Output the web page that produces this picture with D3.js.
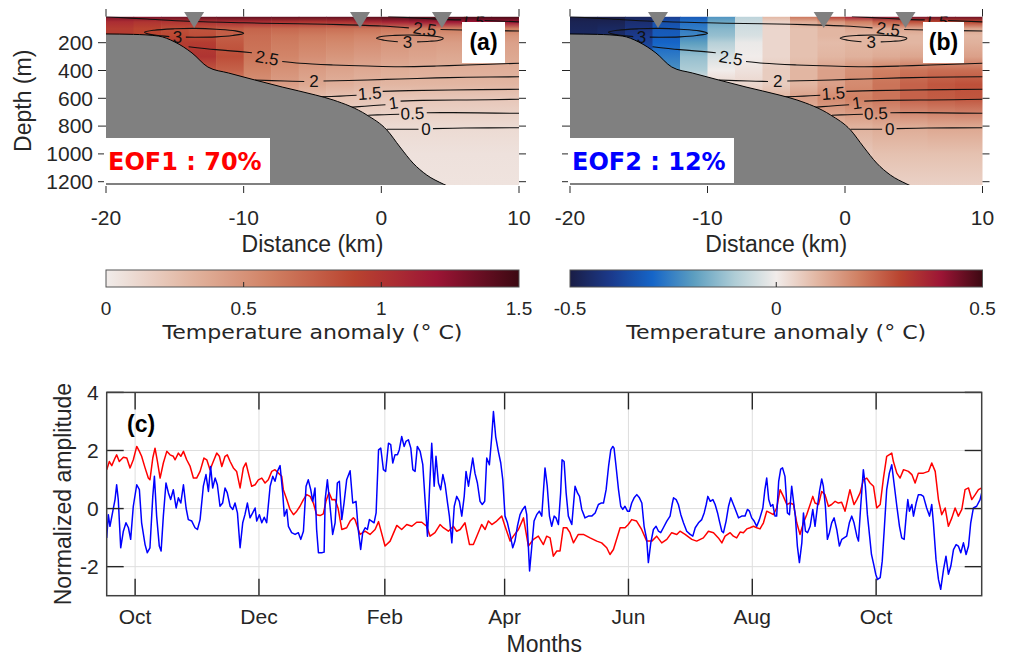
<!DOCTYPE html>
<html>
<head>
  <meta charset="utf-8">
  <title>EOF modes of temperature anomaly</title>
  <script src="https://d3js.org/d3.v7.min.js"></script>
  <style>
    body { margin: 0; background: #fff; }
    svg text { font-family: "Liberation Sans", Arial, sans-serif; fill: #262626; }
    .tick { stroke: #262626; stroke-width: 1; }
    .contour { fill: none; stroke: #111; stroke-width: 1.1; }
    .clabel { font-size: 17px; fill: #111; }
    .grid { stroke: #dedede; stroke-width: 1; }
    .series { fill: none; stroke-width: 1.5; stroke-linejoin: round; }
  </style>
</head>
<body>
<script>
// ---------- sections (a) and (b) ----------
const distanceTicks = [-20, -10, 0, 10];
const depthTicks = [200, 400, 600, 800, 1000, 1200];
const stationKm = [-13.6, -1.55, 4.4];

// EOF patterns on 2 km columns x depth levels (m)
const gridKm = [-19, -17, -15, -13, -11, -9, -7, -5, -3, -1, 1, 3, 5, 7, 9];
const gridDepth = [12, 50, 100, 150, 200, 300, 400, 500, 600, 800, 1000, 1225];

const eof1 = [
  [1.30, 1.32, 1.35, 1.38, 1.40, 1.40, 1.40, 1.40, 1.40, 1.42, 1.45, 1.48, 1.48, 1.48, 1.48],
  [1.05, 1.00, 1.00, 1.02, 1.05, 1.05, 1.02, 1.00, 1.02, 1.08, 1.12, 1.15, 1.18, 1.20, 1.20],
  [0.95, 0.90, 0.85, 0.82, 0.78, 0.74, 0.72, 0.70, 0.68, 0.66, 0.64, 0.62, 0.60, 0.60, 0.60],
  [0.95, 0.90, 0.88, 0.85, 0.76, 0.70, 0.65, 0.62, 0.60, 0.57, 0.54, 0.52, 0.50, 0.48, 0.48],
  [0.90, 0.90, 0.95, 0.95, 0.80, 0.68, 0.62, 0.58, 0.55, 0.52, 0.48, 0.45, 0.44, 0.42, 0.42],
  [0.90, 0.90, 0.95, 1.00, 0.85, 0.65, 0.57, 0.52, 0.48, 0.45, 0.42, 0.40, 0.38, 0.38, 0.38],
  [0.80, 0.80, 0.80, 0.80, 0.75, 0.58, 0.50, 0.44, 0.40, 0.37, 0.35, 0.34, 0.34, 0.34, 0.34],
  [0.55, 0.55, 0.55, 0.55, 0.55, 0.50, 0.44, 0.38, 0.34, 0.31, 0.30, 0.30, 0.30, 0.30, 0.30],
  [0.30, 0.30, 0.30, 0.30, 0.30, 0.30, 0.28, 0.25, 0.23, 0.22, 0.21, 0.21, 0.21, 0.21, 0.21],
  [0.10, 0.10, 0.10, 0.10, 0.10, 0.10, 0.10, 0.10, 0.10, 0.10, 0.10, 0.10, 0.10, 0.10, 0.10],
  [0.06, 0.06, 0.06, 0.06, 0.06, 0.06, 0.06, 0.06, 0.06, 0.06, 0.06, 0.06, 0.06, 0.06, 0.06],
  [0.05, 0.05, 0.05, 0.05, 0.05, 0.05, 0.05, 0.05, 0.05, 0.05, 0.05, 0.05, 0.05, 0.05, 0.05]
];

const eof2 = [
  [-0.50, -0.50, -0.47, -0.40, -0.33, -0.22, -0.08, 0.10, 0.22, 0.32, 0.38, 0.42, 0.44, 0.45, 0.45],
  [-0.48, -0.48, -0.44, -0.35, -0.28, -0.18, -0.06, 0.05, 0.12, 0.16, 0.20, 0.25, 0.28, 0.30, 0.30],
  [-0.47, -0.46, -0.42, -0.33, -0.26, -0.15, -0.05, 0.04, 0.08, 0.10, 0.12, 0.13, 0.13, 0.13, 0.13],
  [-0.46, -0.45, -0.40, -0.32, -0.24, -0.13, -0.04, 0.04, 0.08, 0.10, 0.10, 0.10, 0.10, 0.10, 0.10],
  [-0.45, -0.44, -0.38, -0.30, -0.20, -0.09, -0.01, 0.04, 0.08, 0.09, 0.10, 0.10, 0.10, 0.11, 0.11],
  [-0.40, -0.40, -0.34, -0.26, -0.13, -0.04, 0.00, 0.04, 0.08, 0.10, 0.11, 0.12, 0.13, 0.14, 0.14],
  [-0.30, -0.30, -0.28, -0.22, -0.10, 0.00, 0.02, 0.06, 0.10, 0.14, 0.17, 0.20, 0.22, 0.23, 0.23],
  [0.00, 0.00, 0.00, 0.00, 0.02, 0.04, 0.04, 0.06, 0.10, 0.14, 0.18, 0.22, 0.25, 0.27, 0.28],
  [0.05, 0.05, 0.05, 0.05, 0.05, 0.06, 0.08, 0.10, 0.14, 0.18, 0.20, 0.22, 0.25, 0.26, 0.27],
  [0.06, 0.06, 0.06, 0.06, 0.06, 0.06, 0.06, 0.08, 0.08, 0.10, 0.11, 0.12, 0.12, 0.13, 0.13],
  [0.06, 0.06, 0.06, 0.06, 0.06, 0.06, 0.06, 0.06, 0.06, 0.07, 0.07, 0.08, 0.08, 0.08, 0.08],
  [0.05, 0.05, 0.05, 0.05, 0.05, 0.05, 0.05, 0.05, 0.05, 0.05, 0.05, 0.05, 0.05, 0.05, 0.05]
];

// bottom topography
const bathyKm = [-20, -18, -16.2, -15.0, -13.75, -12.6, -11.1, -9.2, -7.2, -4.8, -3.5, -1.05, 0.4, 1.35, 2.3, 3.3, 4.5, 5.0];
const bathyDepth = [137, 140, 152, 195, 274, 375, 418, 468, 519, 576, 612, 720, 828, 950, 1066, 1152, 1217, 1240];

// mean temperature contours, split where their labels sit
const contourLines = [
  [[-20, 13], [-17, 30], [-14, 46], [-10, 57], [-6, 64], [-3, 70], [0, 80], [2.0, 93]],
  [[4.3, 105], [7, 111], [10, 116]],
  [[0.5, 12], [2.5, 22], [4.5, 32], [5.8, 36]],
  [[7.5, 40], [10, 50]],
  [[-14.2, 160], [-13.5, 161], [-12, 158], [-10.8, 148], [-10.0, 133], [-10.6, 115], [-12, 103], [-13.5, 97], [-15, 100], [-16.5, 110], [-17.2, 125], [-16.8, 140], [-16, 150], [-15.4, 156]],
  [[2.6, 194], [3.5, 190], [4.3, 180], [4.5, 168], [4.0, 155], [3, 147], [2, 145], [1, 147], [0, 155], [-0.35, 168], [0.2, 182], [0.8, 190], [1.2, 193]],
  [[-14.0, 229], [-12, 250], [-9.4, 272]],
  [[-7.2, 335], [-5.9, 348], [-3.5, 360], [-1, 368], [1.35, 373], [4, 368], [6.2, 360], [10, 348]],
  [[-9.2, 468], [-7, 476], [-5.6, 479]],
  [[-4.2, 476], [-1, 468], [1.35, 461], [4, 453], [6.2, 449], [10, 445]],
  [[-4.5, 590], [-3, 584], [-1.8, 578]],
  [[0.1, 550], [2, 545], [5, 540], [10, 535]],
  [[-2.3, 665], [-1.2, 657], [0.3, 646]],
  [[1.4, 620], [3, 615], [6.2, 612], [10, 607]],
  [[-0.95, 722], [0.2, 718], [1.3, 715]],
  [[3.3, 704], [5, 703], [7, 705], [10, 708]],
  [[0.4, 823], [1.5, 823], [2.7, 823]],
  [[3.75, 818], [6, 814], [10, 812]]
];
const contourLabelText = ["2.5", "1.5", "3", "3", "2.5", "2", "1.5", "1", "0.5", "0"];
const contourLabelKm = [3.15, 6.65, -14.8, 1.9, -8.3, -4.9, -0.85, 0.87, 2.25, 3.25];
const contourLabelDepth = [101, 37, 158, 196, 310, 476, 564, 633, 708, 823];
const contourLabelAngle = [8, 10, 0, 0, 10, 0, -4, -8, -2, 0];

// ---------- time series (c) ----------
const seriesStart = Date.UTC(2013, 8, 17);
const seriesEnd = Date.UTC(2014, 10, 22);
const monthTicks = [Date.UTC(2013, 9, 1), Date.UTC(2013, 11, 1), Date.UTC(2014, 1, 1), Date.UTC(2014, 3, 1),
                    Date.UTC(2014, 5, 1), Date.UTC(2014, 7, 1), Date.UTC(2014, 9, 1)];
const monthLabels = ["Oct", "Dec", "Feb", "Apr", "Jun", "Aug", "Oct"];
const ampTicks = [-2, 0, 2, 4];

// [days since start, normalized amplitude]
const pc1 = [
  [0, 1.34], [1.3, 1.62], [2.5, 1.48], [4.1, 1.74], [4.9, 1.85], [6.2, 1.62], [8.2, 1.77], [9.9, 1.74], [11.5, 1.40],
  [13.1, 1.68], [14.8, 2.14], [16.1, 1.97], [17.2, 1.80], [18.9, 1.40], [20.5, 1.05], [21.3, 0.99], [22.7, 1.74],
  [23.8, 2.08], [25.0, 1.62], [26.3, 1.05], [27.9, 1.57], [29.6, 1.97], [31.2, 1.85], [32.8, 1.80], [33.7, 1.68],
  [35.3, 1.91], [36.5, 1.80], [37.8, 1.97], [39.4, 1.68], [41.1, 1.45], [42.7, 1.05], [44.3, 1.05], [46.0, 1.28],
  [47.9, 1.74], [49.3, 1.68], [50.9, 1.34], [52.5, 1.62], [54.2, 1.91], [55.5, 1.80], [56.7, 1.45], [58.3, 1.80],
  [59.4, 1.85], [60.8, 1.62], [62.4, 1.40], [64.0, 1.28], [65.7, 0.71], [67.3, 1.40], [68.6, 1.57], [69.8, 1.22],
  [71.4, 0.77], [73.1, 0.82], [74.7, 0.99], [76.4, 1.05], [78.0, 0.88], [79.6, 0.99], [81.3, 1.28], [82.9, 1.34],
  [84.6, 1.22], [86.2, 1.11], [87.0, 0.65], [88.7, 0.31], [90.3, -0.03], [92.0, -0.21], [93.6, -0.09], [95.2, 0.08],
  [96.9, 0.31], [98.5, 0.48], [100.2, 0.42], [101.8, 0.19], [103.4, -0.21], [105.1, -0.24], [106.7, -0.18],
  [108.0, 0.25], [109.5, 0.55], [111.0, 0.30], [112.5, 0.31], [114.0, 0.0], [115.8, -0.72], [118.2, -0.66],
  [119.9, -0.43], [121.5, -0.32], [122.3, -0.38], [124.8, -0.89], [127.3, -0.78], [129.7, -0.89], [132.2, -0.72],
  [133.9, -0.45], [137.1, -1.29], [139.6, -1.12], [142.9, -0.58], [145.3, -0.72], [147.8, -0.55], [150.3, -0.61],
  [152.7, -0.47], [155.2, -0.47], [157.6, -0.61], [159.3, -0.95], [161.7, -0.83], [164.2, -0.55], [165.8, -0.66],
  [168.3, -0.78], [170.8, -0.61], [172.4, -0.78], [174.1, -0.72], [176.5, -0.49], [178.7, -1.24], [180.6, -1.24],
  [182.3, -0.95], [184.7, -0.55], [186.4, -0.72], [188.0, -0.43], [189.7, -0.55], [192.1, -0.43], [194.6, -0.26],
  [196.2, -0.61], [198.7, -1.12], [200.3, -0.95], [202.8, -0.72], [205.3, -0.32], [207.7, -1.29], [210.2, -1.06],
  [212.6, -0.95], [215.1, -1.24], [216.7, -0.95], [218.4, -1.01], [220.0, -1.64], [221.7, -1.46], [223.3, -1.46],
  [224.9, -0.66], [226.6, -0.66], [228.2, -0.83], [229.9, -1.18], [232.3, -0.89], [234.8, -0.89], [238.1, -1.01],
  [241.4, -1.12], [243.8, -1.18], [246.3, -1.35], [247.9, -1.58], [249.6, -1.41], [252.9, -0.66], [255.3, -0.66],
  [256.9, -0.55], [258.6, -0.38], [261.0, -0.43], [263.5, -0.72], [266.0, -1.12], [268.5, -1.12], [270.9, -0.95],
  [273.4, -1.18], [275.9, -1.06], [278.3, -0.83], [280.8, -0.89], [282.4, -0.78], [284.9, -0.89], [288.2, -1.06],
  [290.6, -1.12], [293.9, -1.01], [296.4, -0.78], [298.9, -0.83], [301.3, -1.01], [303.0, -1.18], [304.6, -0.95],
  [307.1, -0.83], [308.7, -0.95], [310.3, -1.01], [312.0, -0.81], [313.6, -0.83], [315.3, -0.70], [316.9, -0.66],
  [318.6, -0.61], [320.2, -0.66], [321.8, -0.70], [323.5, -0.49], [325.1, -0.09], [326.8, -0.15], [328.4, -0.21],
  [330.0, 0.02], [331.7, 0.65], [333.3, 0.42], [335.0, 0.14], [336.6, 0.19], [338.3, 0.14], [339.9, -0.49],
  [341.5, -0.89], [343.2, -0.49], [344.8, -0.21], [346.5, 0.14], [347.8, 0.42], [348.9, 0.19], [350.6, 0.14],
  [352.2, 0.59], [353.8, 0.48], [355.5, 0.08], [357.1, 0.14], [358.8, 0.25], [360.4, 0.19], [362.0, 0.22],
  [363.7, -0.09], [366.1, 0.65], [368.1, 0.14], [369.5, 0.31], [371.1, 0.54], [372.7, 0.99], [374.4, 1.05],
  [376.0, 0.88], [377.7, 0.77], [379.3, 0.02], [381.0, 0.14], [382.6, 1.05], [384.2, 1.80], [386.7, 1.91],
  [387.5, 1.62], [389.2, 1.22], [390.8, 1.05], [392.5, 1.34], [394.9, 1.28], [396.6, 1.17], [398.2, 0.88],
  [399.8, 1.22], [402.3, 1.22], [404.8, 1.28], [406.4, 1.57], [408.1, 1.28], [409.7, 0.31], [411.3, -0.21],
  [413.0, 0.02], [414.6, -0.61], [416.3, -0.32], [417.9, 0.02], [419.5, -0.26], [421.2, -0.03], [422.8, 0.65],
  [424.5, 0.71], [426.1, 0.31], [427.8, 0.48], [429.4, 0.65], [431.0, 0.71]
];

const pc2 = [
  [0, -1.01], [0.8, -0.21], [1.6, -0.61], [4.1, 0.31], [4.9, 0.82], [5.7, 0.31], [6.9, -1.35], [8.2, -0.78],
  [9.5, -0.49], [10.7, -0.66], [11.8, -1.06], [13.1, 0.08], [14.8, 0.82], [16.1, 0.65], [17.2, -0.49], [18.9, -1.24],
  [20.0, -1.52], [21.3, -1.35], [22.7, 0.42], [23.5, 1.11], [24.6, -0.26], [25.9, -1.29], [26.8, -1.46], [27.9, -0.26],
  [29.2, 0.88], [30.4, 0.54], [31.5, 0.31], [32.8, 0.65], [34.2, 0.02], [35.3, 0.37], [36.5, 0.19], [37.8, 0.82],
  [39.1, 0.02], [40.2, -0.38], [41.9, -0.43], [43.5, -0.66], [44.7, -0.72], [46.0, -0.38], [47.6, 0.77], [48.9, 1.17],
  [50.1, 0.59], [51.2, 1.45], [52.2, 0.71], [53.4, 1.05], [54.5, 0.82], [55.8, 0.08], [57.1, 0.19], [58.3, 0.71],
  [59.4, 0.54], [60.8, 0.08], [62.1, -0.03], [63.2, 0.19], [64.4, -0.15], [65.7, -1.35], [67.0, -0.49], [68.1, -0.21],
  [69.3, 0.19], [70.6, -0.32], [71.9, -0.15], [73.1, 0.02], [73.9, -0.43], [75.2, -0.21], [76.4, -0.49], [77.6, -0.30],
  [78.8, -0.49], [80.5, 0.77], [81.8, 1.11], [82.9, 0.94], [84.1, 1.28], [85.4, 1.48], [86.7, 0.54], [87.5, -0.26],
  [88.7, -0.03], [89.5, -0.61], [91.1, -0.83], [92.8, -0.89], [94.4, -0.83], [95.6, -1.06], [96.9, -0.78],
  [98.2, 0.77], [99.3, 0.99], [100.5, 0.65], [101.5, 0.25], [102.6, 0.71], [103.4, -0.72], [104.3, -1.52],
  [105.9, -1.52], [107.1, -1.50], [107.6, 0.31], [108.7, 0.99], [109.7, 0.31], [111.3, -0.89], [112.5, -0.49],
  [113.6, 0.88], [114.6, 0.94], [115.8, -0.38], [116.9, 0.19], [118.2, 0.99], [119.9, 1.30], [121.2, 0.19],
  [122.8, 0.25], [123.9, -0.72], [125.1, -1.41], [126.1, -0.83], [127.3, -0.66], [128.4, -0.72], [129.4, -0.38],
  [130.5, -0.43], [131.7, -0.49], [132.7, -0.15], [133.9, 2.02], [135.0, 2.08], [136.3, 1.34], [137.4, 1.28],
  [138.8, 2.25], [139.9, 2.20], [140.9, 1.57], [142.0, 1.85], [143.2, 1.85], [144.1, 2.02], [145.3, 2.48],
  [146.5, 2.14], [147.4, 2.31], [148.6, 2.37], [149.8, 2.08], [150.8, 1.34], [151.9, 1.28], [153.0, 2.14],
  [154.4, 1.97], [155.7, 1.51], [156.8, 0.31], [158.0, -0.95], [159.0, 0.65], [160.1, 2.25], [161.3, 0.77],
  [162.2, 1.80], [163.4, 0.88], [164.5, 0.65], [165.6, 1.17], [166.7, 0.82], [167.9, 0.19], [168.8, -0.26],
  [170.0, -1.18], [171.2, 0.08], [172.4, 0.42], [173.7, 0.25], [174.9, -0.26], [176.1, 0.42], [177.0, 1.28],
  [178.2, 0.77], [179.3, 1.28], [180.3, 1.74], [181.4, 1.22], [182.6, 0.88], [183.9, 0.25], [185.0, 0.14],
  [186.2, 0.25], [187.2, 1.74], [188.5, 1.51], [189.6, 2.42], [190.5, 3.34], [191.6, 2.48], [192.9, 1.97],
  [194.1, 1.57], [195.1, 0.99], [196.2, -0.26], [197.4, -0.49], [198.7, -0.89], [200.0, -1.35], [201.1, -1.12],
  [202.3, -0.61], [203.6, -0.21], [204.9, -0.03], [206.1, 0.08], [206.9, -0.21], [208.3, -2.15], [209.4, -1.29],
  [210.5, -0.43], [211.8, -0.21], [213.1, -0.09], [214.3, -0.26], [215.9, 1.40], [217.0, 0.77], [218.1, -0.26],
  [219.2, -0.61], [220.4, -0.26], [221.3, -0.32], [222.5, -0.55], [223.6, 0.54], [224.3, 1.68], [225.3, 1.62],
  [226.3, 0.54], [227.4, -0.26], [229.1, -0.55], [230.7, 0.77], [231.9, 0.54], [232.9, 0.42], [234.0, -0.03],
  [235.6, -0.32], [237.3, -0.26], [238.9, -0.26], [240.6, -0.15], [242.2, 0.14], [243.5, 0.19], [244.7, 0.19],
  [246.0, 0.65], [247.2, 1.45], [248.3, 2.02], [249.3, 2.14], [249.9, 2.08], [250.9, 1.45], [252.1, 0.65],
  [253.2, 0.08], [254.2, -0.03], [255.3, 0.08], [256.5, -0.09], [257.5, -0.09], [258.6, 0.19], [259.8, 0.37],
  [261.1, 0.48], [262.4, 0.37], [263.6, 0.19], [264.7, -0.61], [266.0, -1.06], [266.8, -1.86], [268.0, -1.18],
  [269.3, -0.72], [270.6, -0.61], [271.8, -0.78], [272.9, -0.83], [274.2, -0.66], [275.9, -0.43], [277.5, -0.26],
  [278.5, 0.14], [279.2, 0.37], [280.5, 0.31], [281.6, 0.14], [282.8, -0.21], [284.1, -0.49], [285.7, -0.78],
  [287.4, -0.89], [288.7, -0.95], [289.9, -0.66], [291.5, -0.49], [293.1, -0.38], [294.3, -0.15], [295.3, 0.14],
  [296.1, 0.42], [297.3, 0.25], [298.6, 0.31], [299.7, 0.14], [300.9, -0.15], [301.8, -0.43], [303.0, -0.78],
  [303.8, -0.83], [305.1, -0.43], [306.3, 0.08], [307.4, 0.37], [308.7, 0.14], [310.0, -0.09], [311.2, -0.32],
  [312.8, -0.26], [314.4, -0.26], [315.6, -0.03], [316.6, -0.09], [317.7, -0.32], [318.9, -0.43], [320.2, -0.61],
  [321.5, -0.38], [323.2, 0.02], [324.2, 0.65], [325.1, 1.05], [326.1, 0.31], [327.1, 0.08], [328.1, 0.14],
  [329.2, -0.26], [330.0, -0.26], [331.0, 0.94], [332.0, 1.36], [332.9, 1.40], [334.1, 1.11], [335.3, -0.15],
  [336.3, -0.21], [337.4, 0.77], [338.2, 0.31], [339.2, -0.26], [340.2, -1.29], [341.2, -1.86], [342.4, -1.18],
  [343.2, -0.15], [344.2, -0.78], [345.2, -0.83], [346.5, -0.61], [347.8, -0.03], [348.9, -0.61], [350.1, 0.08],
  [351.1, 0.59], [352.2, 1.02], [353.0, 0.77], [354.0, 0.08], [355.0, -1.06], [356.0, -0.83], [357.1, -0.49],
  [358.3, -0.32], [359.6, -0.72], [360.9, -1.29], [362.1, -1.06], [363.2, -1.01], [364.5, -0.95], [365.8, -0.49],
  [367.0, -0.26], [368.1, -0.49], [369.5, -0.95], [370.3, -1.12], [371.4, 0.08], [372.7, 1.34], [373.7, 0.77],
  [374.7, -0.21], [375.7, -0.89], [376.7, -1.58], [377.8, -1.92], [378.8, -2.26], [379.7, -2.44], [381.0, -2.38],
  [382.0, -1.81], [383.0, -0.72], [384.2, 0.65], [385.5, 1.22], [386.7, 1.51], [387.8, 0.88], [389.2, 0.08],
  [390.5, -0.61], [391.6, -1.01], [392.8, -1.06], [393.8, -0.26], [394.6, 0.31], [395.4, -0.09], [396.6, 0.14],
  [397.4, -0.26], [398.7, 0.19], [399.8, 0.48], [401.0, 0.48], [402.3, 0.42], [403.9, 0.02], [405.3, -0.26],
  [406.4, 0.14], [407.2, -0.49], [408.5, -1.75], [409.7, -2.44], [410.8, -2.78], [412.2, -2.09], [413.4, -1.64],
  [414.6, -2.26], [415.8, -1.98], [417.1, -1.41], [418.4, -1.24], [419.5, -1.29], [420.7, -1.52], [422.0, -1.18],
  [423.3, -1.58], [424.5, -1.29], [425.6, -0.49], [426.9, 0.02], [428.5, 0.08], [430.2, 0.31], [431.0, 0.54]
];

// diverging colormap (cmocean "balance"-like)
const balanceColors = ["#1a1d45", "#1b3a8c", "#1565c8", "#5c9ec0", "#afcdd6", "#f1ecea",
                       "#e2b6a2", "#d08063", "#b94430", "#9c1535", "#3c0912"];
const balance = d3.piecewise(d3.interpolateRgb, balanceColors);
const colorEof1 = v => balance(Math.max(0, Math.min(1, 0.5 + v / 3)));
const colorEof2 = v => balance(Math.max(0, Math.min(1, 0.5 + v)));

const svg = d3.select("body").append("svg").attr("width", 1010).attr("height", 656);
const defs = svg.append("defs");

function drawSection(opt) {
  const x = d3.scaleLinear().domain([-20, 10]).range([opt.left, opt.right]);
  const y = d3.scaleLinear().domain([0, 1200]).range([14.9, 181.7]);
  const top = y(12), bottom = y(1224);
  const g = svg.append("g");

  defs.append("clipPath").attr("id", "clip-" + opt.id).append("rect")
    .attr("x", opt.left).attr("y", top).attr("width", opt.right - opt.left).attr("height", bottom - top);

  const y0 = y(gridDepth[0]), y1 = y(gridDepth[gridDepth.length - 1]);
  gridKm.forEach((km, i) => {
    const grad = defs.append("linearGradient").attr("id", `${opt.id}-col${i}`)
      .attr("gradientUnits", "userSpaceOnUse")
      .attr("x1", 0).attr("x2", 0).attr("y1", y0).attr("y2", y1);
    gridDepth.forEach((d, j) => {
      grad.append("stop").attr("offset", (y(d) - y0) / (y1 - y0)).attr("stop-color", opt.color(opt.values[j][i]));
    });
  });

  const body = g.append("g").attr("clip-path", `url(#clip-${opt.id})`);
  body.selectAll("rect.col").data(gridKm).join("rect")
    .attr("class", "col")
    .attr("x", d => x(d - 1)).attr("width", d => x(d + 1) - x(d - 1) + 0.6)
    .attr("y", top).attr("height", bottom - top)
    .attr("fill", (d, i) => `url(#${opt.id}-col${i})`);

  // contours
  const cline = d3.line().x(d => x(d[0])).y(d => y(d[1])).curve(d3.curveCatmullRom);
  body.selectAll("path.contour").data(contourLines).join("path")
    .attr("class", "contour").attr("d", cline);
  body.selectAll("text.clabel").data(contourLabelText).join("text")
    .attr("class", "clabel")
    .attr("text-anchor", "middle").attr("dy", "0.35em")
    .attr("transform", (d, i) => `translate(${x(contourLabelKm[i])},${y(contourLabelDepth[i])}) rotate(${contourLabelAngle[i]})`)
    .text(d => d);

  // topography
  const bathy = bathyKm.map((k, i) => [k, bathyDepth[i]]);
  body.append("path").datum(bathy)
    .attr("fill", "#808080")
    .attr("d", d3.area().x(d => x(d[0])).y0(y(1400)).y1(d => y(d[1])).curve(d3.curveMonotoneX));
  body.append("path").datum(bathy)
    .attr("fill", "none").attr("stroke", "#000").attr("stroke-width", 1)
    .attr("d", d3.line().x(d => x(d[0])).y(d => y(d[1])).curve(d3.curveMonotoneX));

  // ticks (outward)
  g.selectAll("line.xb").data(distanceTicks).join("line").attr("class", "tick")
    .attr("x1", d => x(d)).attr("x2", d => x(d)).attr("y1", 186).attr("y2", 193);
  g.selectAll("line.xt").data(distanceTicks).join("line").attr("class", "tick")
    .attr("x1", d => x(d)).attr("x2", d => x(d)).attr("y1", 9).attr("y2", top);
  g.selectAll("line.yl").data(depthTicks).join("line").attr("class", "tick")
    .attr("x1", opt.left - 8).attr("x2", opt.left).attr("y1", d => y(d)).attr("y2", d => y(d));
  g.selectAll("line.yr").data(depthTicks).join("line").attr("class", "tick")
    .attr("x1", opt.right).attr("x2", opt.right + 7).attr("y1", d => y(d)).attr("y2", d => y(d));

  g.selectAll("text.xl").data(distanceTicks).join("text")
    .attr("x", d => x(d)).attr("y", 225).attr("text-anchor", "middle")
    .style("font-size", "21px").text(d => d);
  g.append("text").attr("x", (opt.left + opt.right) / 2).attr("y", 252)
    .attr("text-anchor", "middle").style("font-size", "23px").text("Distance (km)");

  if (opt.yLabels) {
    g.selectAll("text.yl").data(depthTicks).join("text")
      .attr("x", opt.left - 13).attr("y", d => y(d)).attr("dy", "0.35em")
      .attr("text-anchor", "end").style("font-size", "21px").text(d => d);
    g.append("text").attr("transform", `translate(31,${(top + bottom) / 2}) rotate(-90)`)
      .attr("text-anchor", "middle").style("font-size", "23px").text("Depth (m)");
  }

  // stations
  g.selectAll("path.station").data(stationKm).join("path")
    .attr("fill", "#808080")
    .attr("d", d => `M${x(d) - 10},12L${x(d) + 10},12L${x(d)},28Z`);

  // panel letter
  g.append("rect").attr("x", opt.letterBox[0]).attr("y", 22).attr("width", opt.letterBox[1] - opt.letterBox[0]).attr("height", 41)
    .attr("fill", "#fff");
  g.append("text").attr("x", (opt.letterBox[0] + opt.letterBox[1]) / 2).attr("y", 50)
    .attr("text-anchor", "middle").style("font-size", "23px").style("font-weight", "bold").style("fill", "#000")
    .text(opt.letter);

  // variance label
  g.append("rect").attr("x", opt.left - 2).attr("y", 138).attr("width", 166).attr("height", 45).attr("fill", "#fff");
  g.append("text").attr("x", opt.left + 2).attr("y", 170)
    .style("font-family", "'DejaVu Sans', sans-serif").style("font-weight", "bold").style("font-size", "24px")
    .style("fill", opt.labelColor).text(opt.label);

  // colorbar
  const cb = d3.scaleLinear().domain(opt.cbDomain).range([opt.left, opt.right]);
  const cg = defs.append("linearGradient").attr("id", `${opt.id}-cb`);
  d3.range(0, 1.0001, 0.05).forEach(t => {
    const v = opt.cbDomain[0] + t * (opt.cbDomain[1] - opt.cbDomain[0]);
    cg.append("stop").attr("offset", t).attr("stop-color", opt.color(v));
  });
  g.append("rect").attr("x", opt.left).attr("y", 270).attr("width", opt.right - opt.left).attr("height", 17)
    .attr("fill", `url(#${opt.id}-cb)`).attr("stroke", "#555").attr("stroke-width", 1);
  g.selectAll("line.cbt").data(opt.cbTicks.slice(1, -1)).join("line").attr("class", "tick")
    .attr("x1", d => cb(d)).attr("x2", d => cb(d)).attr("y1", 282).attr("y2", 287);
  g.selectAll("text.cbl").data(opt.cbTicks).join("text")
    .attr("x", d => cb(d)).attr("y", 315).attr("text-anchor", "middle")
    .style("font-size", "19px").text(d => d);
  g.append("text").attr("x", (opt.left + opt.right) / 2).attr("y", 339).attr("text-anchor", "middle")
    .style("font-family", "'DejaVu Sans', sans-serif").style("font-size", "19px")
    .attr("textLength", 300).attr("lengthAdjust", "spacingAndGlyphs")
    .text("Temperature anomaly (\u00b0 C)");
}

drawSection({
  id: "a", left: 106, right: 519, values: eof1, color: colorEof1, yLabels: true,
  letter: "(a)", letterBox: [462, 505], label: "EOF1 : 70%", labelColor: "#ff0000",
  cbDomain: [0, 1.5], cbTicks: [0, 0.5, 1, 1.5]
});
drawSection({
  id: "b", left: 570, right: 982.5, values: eof2, color: colorEof2, yLabels: false,
  letter: "(b)", letterBox: [923, 964], label: "EOF2 : 12%", labelColor: "#0000ff",
  cbDomain: [-0.5, 0.5], cbTicks: [-0.5, 0, 0.5]
});

// ---------- panel (c) ----------
const cLeft = 106.7, cRight = 981.7, cTop = 392.4, cBottom = 595.7;
const tx = d3.scaleUtc().domain([seriesStart, seriesEnd]).range([cLeft, cRight]);
const ty = d3.scaleLinear().domain([-3, 4]).range([cBottom, cTop]);
const dayDate = d => new Date(seriesStart + d * 864e5);
const pc = svg.append("g");

defs.append("clipPath").attr("id", "clip-c").append("rect")
  .attr("x", cLeft).attr("y", cTop).attr("width", cRight - cLeft).attr("height", cBottom - cTop);

pc.selectAll("line.gx").data(monthTicks).join("line").attr("class", "grid")
  .attr("x1", d => tx(d)).attr("x2", d => tx(d)).attr("y1", cTop).attr("y2", cBottom);
pc.selectAll("line.gy").data(ampTicks).join("line").attr("class", "grid")
  .attr("x1", cLeft).attr("x2", cRight).attr("y1", d => ty(d)).attr("y2", d => ty(d));

const sline = d3.line().x(d => tx(dayDate(d[0]))).y(d => ty(d[1]));
const lines = pc.append("g").attr("clip-path", "url(#clip-c)");
lines.append("path").datum(pc1).attr("class", "series").attr("stroke", "#ff0000").attr("d", sline);
lines.append("path").datum(pc2).attr("class", "series").attr("stroke", "#0000ff").attr("d", sline);

// inward ticks
pc.selectAll("line.tb").data(monthTicks).join("line").attr("class", "tick").style("stroke-width", 1.4)
  .attr("x1", d => tx(d)).attr("x2", d => tx(d)).attr("y1", cBottom).attr("y2", cBottom - 17);
pc.selectAll("line.tt").data(monthTicks).join("line").attr("class", "tick").style("stroke-width", 1.4)
  .attr("x1", d => tx(d)).attr("x2", d => tx(d)).attr("y1", cTop).attr("y2", cTop + 17);
pc.selectAll("line.tl").data(ampTicks).join("line").attr("class", "tick").style("stroke-width", 1.4)
  .attr("x1", cLeft).attr("x2", cLeft + 17).attr("y1", d => ty(d)).attr("y2", d => ty(d));
pc.selectAll("line.tr").data(ampTicks).join("line").attr("class", "tick").style("stroke-width", 1.4)
  .attr("x1", cRight - 17).attr("x2", cRight).attr("y1", d => ty(d)).attr("y2", d => ty(d));

pc.append("rect").attr("x", cLeft).attr("y", cTop).attr("width", cRight - cLeft).attr("height", cBottom - cTop)
  .attr("fill", "none").attr("stroke", "#404040").attr("stroke-width", 1.5);

pc.selectAll("text.mt").data(monthTicks).join("text")
  .attr("x", d => tx(d)).attr("y", 624).attr("text-anchor", "middle")
  .style("font-size", "21px").text((d, i) => monthLabels[i]);
pc.selectAll("text.at").data(ampTicks).join("text")
  .attr("x", cLeft - 8).attr("y", d => ty(d)).attr("dy", "0.35em").attr("text-anchor", "end")
  .style("font-size", "21px").text(d => d);
pc.append("text").attr("x", (cLeft + cRight) / 2).attr("y", 652).attr("text-anchor", "middle")
  .style("font-size", "23px").text("Months");
pc.append("text").attr("transform", `translate(71,${(cTop + cBottom) / 2}) rotate(-90)`)
  .attr("text-anchor", "middle").style("font-size", "23px").text("Normalized amplitude");
pc.append("text").attr("x", 127).attr("y", 432).style("font-size", "23px").style("font-weight", "bold")
  .style("fill", "#000").text("(c)");
</script>
</body>
</html>
